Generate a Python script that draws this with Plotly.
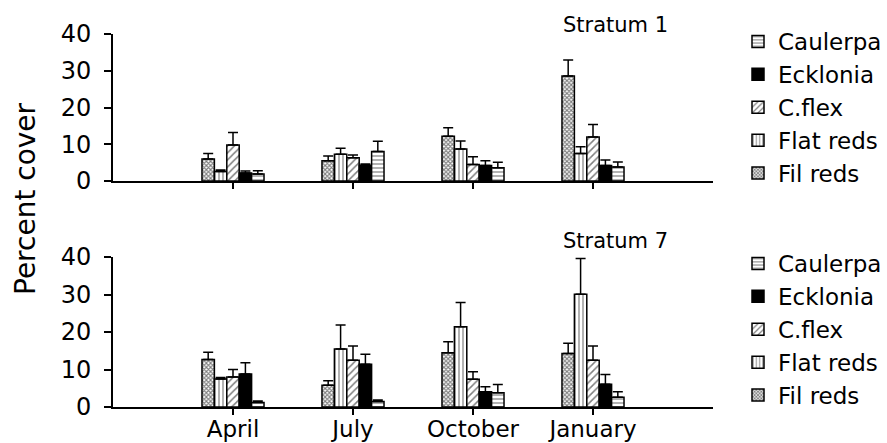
import plotly.graph_objects as go

months = ["April", "July", "October", "January"]
month_pos = [1, 2, 3, 4]
species = ["Fil reds", "Flat reds", "C.flex", "Ecklonia", "Caulerpa"]

# Stratum 1 (top panel): mean and upper error (SE)
s1_vals = {
    "Fil reds":  [6.0, 5.5, 12.2, 28.6],
    "Flat reds": [2.6, 7.3, 8.7, 7.5],
    "C.flex":    [9.8, 6.3, 4.5, 12.0],
    "Ecklonia":  [2.2, 4.3, 4.2, 4.2],
    "Caulerpa":  [1.9, 8.0, 3.6, 3.8],
}
s1_err = {
    "Fil reds":  [1.5, 1.3, 2.3, 4.3],
    "Flat reds": [0.4, 1.6, 2.2, 1.8],
    "C.flex":    [3.4, 0.8, 2.1, 3.4],
    "Ecklonia":  [0.5, 0.3, 1.3, 1.5],
    "Caulerpa":  [0.9, 2.8, 1.5, 1.4],
}
# Stratum 7 (bottom panel)
s7_vals = {
    "Fil reds":  [12.7, 5.8, 14.5, 14.3],
    "Flat reds": [7.5, 15.5, 21.4, 30.1],
    "C.flex":    [8.0, 12.5, 7.4, 12.5],
    "Ecklonia":  [8.8, 11.4, 4.1, 6.1],
    "Caulerpa":  [1.2, 1.5, 3.8, 2.6],
}
s7_err = {
    "Fil reds":  [1.9, 1.2, 2.9, 2.7],
    "Flat reds": [0.4, 6.4, 6.5, 9.5],
    "C.flex":    [2.0, 3.8, 2.0, 3.8],
    "Ecklonia":  [3.0, 2.7, 1.3, 2.6],
    "Caulerpa":  [0.4, 0.4, 2.2, 1.5],
}

y_ticks = [0, 10, 20, 30, 40]

patterns = {
    "Fil reds":  dict(shape="x", size=3, solidity=0.6, fgcolor="black", bgcolor="white"),
    "Flat reds": dict(shape="|", size=4, solidity=0.3, fgcolor="black", bgcolor="white"),
    "C.flex":    dict(shape="/", size=5, solidity=0.3, fgcolor="black", bgcolor="white"),
    "Ecklonia":  dict(shape="", fgcolor="black", bgcolor="black"),
    "Caulerpa":  dict(shape="-", size=4, solidity=0.3, fgcolor="black", bgcolor="white"),
}
colors = {"Ecklonia": "black"}

FONT = "DejaVu Sans"
fig = go.Figure()

for panel, (vals, errs, xa, ya, lg) in enumerate([
    (s1_vals, s1_err, "x", "y", "legend"),
    (s7_vals, s7_err, "x2", "y2", "legend2"),
]):
    for sp in species:
        fig.add_trace(go.Bar(
            x=month_pos, y=vals[sp], name=sp,
            xaxis=xa, yaxis=ya, legend=lg,
            marker=dict(color=colors.get(sp, "white"),
                        line=dict(color="black", width=1.5),
                        pattern=patterns[sp]),
            error_y=dict(type="data", symmetric=False, array=errs[sp],
                         arrayminus=[0] * len(errs[sp]),
                         color="black", thickness=1.5, width=5),
        ))

axis_common = dict(showline=True, linecolor="black", linewidth=2,
                   ticks="outside", tickwidth=1.5, tickcolor="black",
                   showgrid=False, zeroline=False)
xfont = dict(family=FONT, size=23, color="black")
yfont = dict(family=FONT, size=24, color="black")

L, R, T, B = 113, 174, 34, 36
H, W = 443, 887
ph = H - T - B
pw = W - L - R
top_dom = [(H - B - 181) / ph, 1.0]
bot_dom = [0.0, (H - B - 257) / ph]

fig.update_layout(
    width=W, height=H,
    margin=dict(l=L, r=R, t=T, b=B, autoexpand=False),
    paper_bgcolor="white", plot_bgcolor="white",
    barmode="group", bargap=0.483, bargroupgap=0,
    font=dict(family=FONT, size=22, color="black"),
    xaxis=dict(domain=[0, 1], range=[0, 5], tickvals=month_pos,
               ticktext=[""] * 4, anchor="y", ticklen=6, tickfont=xfont,
               **axis_common),
    yaxis=dict(domain=top_dom, range=[0, 40], tickvals=y_ticks, anchor="x",
               ticklen=7, tickfont=yfont, ticklabelstandoff=8, **axis_common),
    xaxis2=dict(domain=[0, 1], range=[0, 5], tickvals=month_pos,
                ticktext=months, anchor="y2", ticklen=6, tickfont=xfont,
                ticklabelstandoff=-6, **axis_common),
    yaxis2=dict(domain=bot_dom, range=[0, 40], tickvals=y_ticks, anchor="x2",
                ticklen=7, tickfont=yfont, ticklabelstandoff=8, **axis_common),
    legend=dict(x=(738 - L) / pw, xanchor="left", y=(H - B - 20) / ph,
                yanchor="top", traceorder="reversed",
                font=dict(family=FONT, size=23), bgcolor="rgba(0,0,0,0)"),
    legend2=dict(x=(738 - L) / pw, xanchor="left", y=(H - B - 242) / ph,
                 yanchor="top", traceorder="reversed",
                 font=dict(family=FONT, size=23), bgcolor="rgba(0,0,0,0)"),
    annotations=[
        dict(text="Stratum 1", xref="paper", yref="paper",
             x=(615 - L) / pw, y=(H - B - 25) / ph, showarrow=False,
             xanchor="center", yanchor="middle",
             font=dict(family=FONT, size=21)),
        dict(text="Stratum 7", xref="paper", yref="paper",
             x=(615 - L) / pw, y=(H - B - 241) / ph, showarrow=False,
             xanchor="center", yanchor="middle",
             font=dict(family=FONT, size=21)),
        dict(text="Percent cover", xref="paper", yref="paper",
             x=(26 - L) / pw, y=(H - B - 199) / ph, showarrow=False,
             xanchor="center", yanchor="middle",
             textangle=-90, font=dict(family=FONT, size=28)),
    ],
)

fig.write_html("out.html")
